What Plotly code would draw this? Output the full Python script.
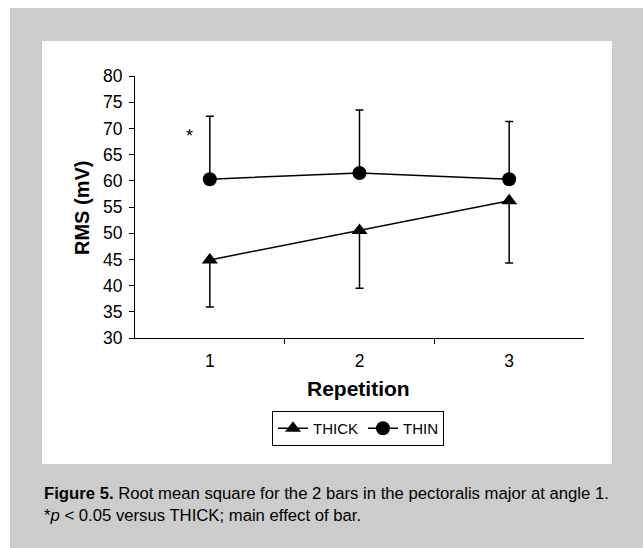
import plotly.graph_objects as go

repetition = [1, 2, 3]
tick_labels = ["1", "2", "3"]
thick_mean = [44.9, 50.5, 56.2]
thick_err_minus = [9.0, 11.0, 11.9]
thin_mean = [60.3, 61.5, 60.3]
thin_err_plus = [12.0, 12.0, 11.0]

W, H = 643, 548
L, R, T, B = 135, 643 - 584, 76, 548 - 338
pw = W - L - R
ph = H - T - B

def px(x):
    return (x - L) / pw

def py(y):
    return (H - B - y) / ph

fig = go.Figure()
fig.add_trace(go.Scatter(
    x=repetition, y=thick_mean, name="THICK", mode="lines+markers",
    line=dict(color="black", width=1.5),
    marker=dict(symbol="triangle-up", size=14, color="black"),
    error_y=dict(type="data", symmetric=False, array=[0, 0, 0],
                 arrayminus=thick_err_minus, color="black", thickness=1.5, width=4),
))
fig.add_trace(go.Scatter(
    x=repetition, y=thin_mean, name="THIN", mode="lines+markers",
    line=dict(color="black", width=1.5),
    marker=dict(symbol="circle", size=14, color="black"),
    error_y=dict(type="data", symmetric=False, array=thin_err_plus,
                 arrayminus=[0, 0, 0], color="black", thickness=1.5, width=4),
))

shapes = [
    dict(type="rect", xref="paper", yref="paper", x0=px(10), x1=px(643), y0=py(8), y1=py(548),
         fillcolor="#cccccc", line=dict(width=0), layer="below"),
    dict(type="rect", xref="paper", yref="paper", x0=px(42), x1=px(612), y0=py(41), y1=py(464),
         fillcolor="white", line=dict(width=0), layer="below"),
]

font = "Arial, Liberation Sans, sans-serif"
annotations = [
    dict(text="<b>RMS (mV)</b>", xref="paper", yref="paper", x=px(82), y=py(208),
         xanchor="center", yanchor="middle",
         textangle=-90, showarrow=False, font=dict(size=20, color="black", family=font)),
    dict(text="<b>Repetition</b>", xref="paper", yref="paper", x=px(358), y=py(388),
         xanchor="center", yanchor="middle",
         showarrow=False, font=dict(size=21, color="black", family=font)),
    dict(text="*", xref="x", yref="y", x=0.865, y=68.6, showarrow=False,
         xanchor="center", yanchor="middle",
         font=dict(size=18, color="black", family=font)),
    dict(text="<b>Figure 5.</b> Root mean square for the 2 bars in the pectoralis major at angle 1.",
         xref="paper", yref="paper", x=px(42), y=py(493), xanchor="left", yanchor="middle",
         showarrow=False, font=dict(size=16.7, color="black", family=font)),
    dict(text="*<i>p</i> &lt; 0.05 versus THICK; main effect of bar.",
         xref="paper", yref="paper", x=px(42), y=py(515), xanchor="left", yanchor="middle",
         showarrow=False, font=dict(size=16.7, color="black", family=font)),
]

fig.update_layout(
    width=W, height=H, margin=dict(l=L, r=R, t=T, b=B, pad=0),
    paper_bgcolor="white", plot_bgcolor="rgba(0,0,0,0)",
    font=dict(family=font, color="black", size=17),
    shapes=shapes, annotations=annotations,
    showlegend=True,
    legend=dict(orientation="h", x=px(358), xanchor="center", y=py(411), yanchor="top",
                bordercolor="black", borderwidth=1, bgcolor="white",
                font=dict(size=15, family=font), itemwidth=30,
                itemclick=False),
    xaxis=dict(range=[0.5, 3.5], tickvals=repetition, ticktext=tick_labels, ticks="",
               showline=True, linecolor="black", linewidth=1.2, showgrid=False, zeroline=False,
               tickfont=dict(size=17.5), fixedrange=True, ticklabelstandoff=7,
               minor=dict(tickvals=[1.5, 2.5], ticks="outside", ticklen=5, tickcolor="black",
                          tickwidth=1.2, showgrid=False)),
    yaxis=dict(range=[30, 80], dtick=5, ticks="outside", ticklen=5, tickcolor="black",
               tickwidth=1.2, showline=True, linecolor="black", linewidth=1.2,
               showgrid=False, zeroline=False, tickfont=dict(size=17.5), fixedrange=True,
               ticklabelstandoff=3),
)

fig.write_html("out.html")
